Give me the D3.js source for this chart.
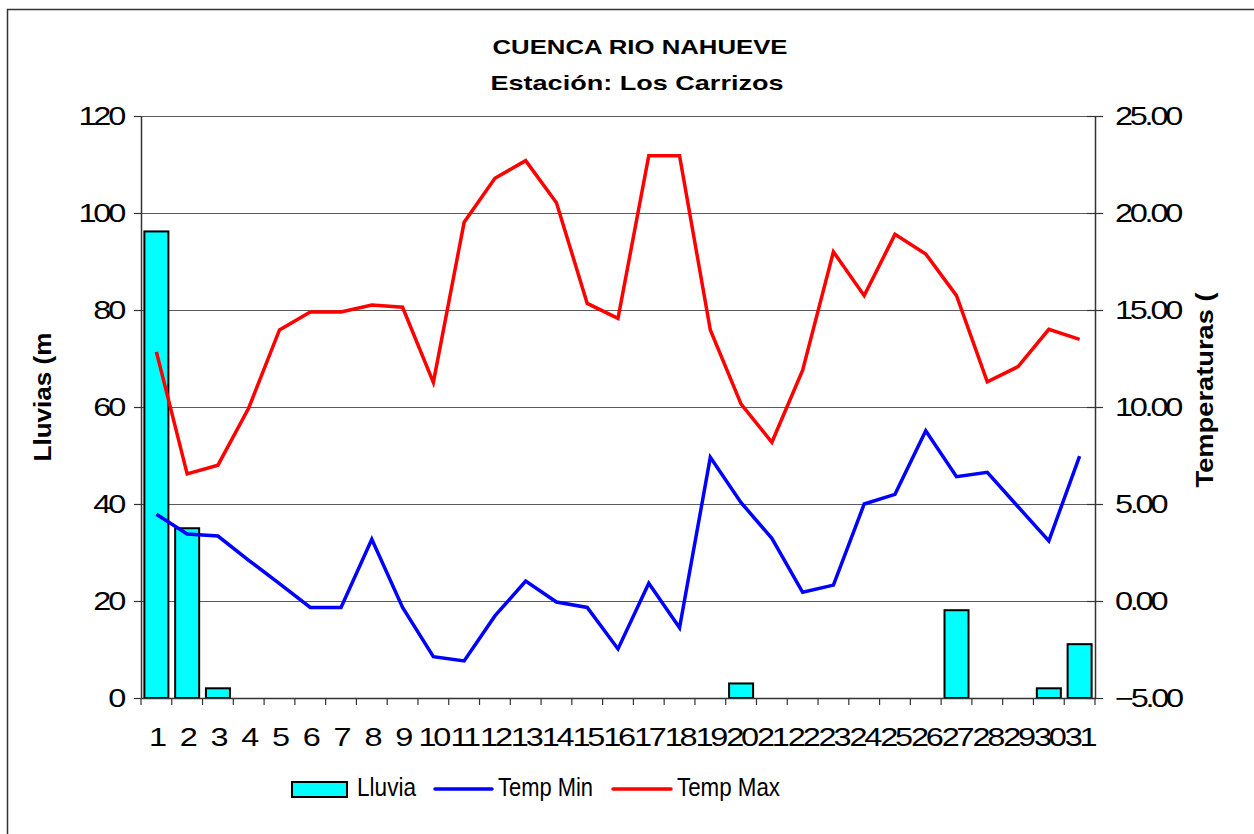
<!DOCTYPE html>
<html><head><meta charset="utf-8">
<script src="https://cdn.jsdelivr.net/npm/d3@7"></script>
<style>body{margin:0;background:#fff;} svg{display:block;font-family:"Liberation Sans",Arial,sans-serif;}</style>
</head><body><svg id="c" width="1254" height="834"></svg>
<script>
const days = ["1","2","3","4","5","6","7","8","9","10","11","12","13","14","15","16","17","18","19","20","21","22","23","24","25","26","27","28","29","30","31"];
const lluvia = [96.2,35,2,0,0,0,0,0,0,0,0,0,0,0,0,0,0,0,0,3,0,0,0,0,0,0,18.1,0,0,2,11.1];
const tempMin = [4.47,3.45,3.35,2.1,0.9,-0.33,-0.33,3.18,-0.33,-2.87,-3.09,-0.77,1.03,-0.05,-0.33,-2.47,0.91,-1.38,7.41,5.07,3.23,0.45,0.82,5.0,5.5,8.78,6.41,6.63,4.86,3.1,7.47];
const tempMax = [12.84,6.55,7.0,9.95,13.97,14.9,14.9,15.26,15.14,11.27,19.52,21.79,22.7,20.53,15.34,14.57,22.95,22.95,13.97,10.15,8.18,11.9,18.0,15.74,18.9,17.89,15.74,11.3,12.08,14.0,13.49];
const leftTicks = [0,20,40,60,80,100,120];
const rightTicks = [-5,0,5,10,15,20,25];
const titleLines = ["CUENCA RIO NAHUEVE","Estación: Los Carrizos"];
const yLeftTitle = "Lluvias (m";
const yRightTitle = "Temperaturas (";
const seriesNames = ["Lluvia","Temp Min","Temp Max"];

const svg = d3.select("#c");
const L=141,R=1095,T=116,B=698;
const SX=1.3;
svg.append("rect").attr("width",1254).attr("height",834).attr("fill","#fff");
svg.append("rect").attr("x",7.5).attr("y",9.5).attr("width",1260).attr("height",840)
  .attr("fill","none").attr("stroke","#333").attr("stroke-width",1.5);

const x = d3.scaleBand().domain(days).range([L,R]).paddingInner(0.22).paddingOuter(0.11);
const y = d3.scaleLinear().domain([0,120]).range([B,T]);
const y2 = d3.scaleLinear().domain([-5,25]).range([B,T]);

// gridlines
svg.append("g").selectAll("line").data(leftTicks.filter(d=>d>0)).join("line")
  .attr("x1",L).attr("x2",R)
  .attr("y1",d=>Math.round(y(d))+0.5).attr("y2",d=>Math.round(y(d))+0.5)
  .attr("stroke","#5a5a5a").attr("stroke-width",1.2);

// bars
svg.append("g").selectAll("rect").data(days.map((d,i)=>({d,v:lluvia[i]})).filter(o=>o.v>0)).join("rect")
  .attr("x",o=>x(o.d)).attr("width",x.bandwidth())
  .attr("y",o=>y(o.v)).attr("height",o=>y(0)-y(o.v))
  .attr("fill","#00ffff").attr("stroke","#000").attr("stroke-width",2);

// lines
const cx = d=>x(d)+x.bandwidth()/2;
const lineMin = d3.line().x((v,i)=>cx(days[i])).y(v=>y2(v));
svg.append("path").attr("d",lineMin(tempMin)).attr("fill","none").attr("stroke","#0000ff").attr("stroke-width",3.5);
svg.append("path").attr("d",lineMin(tempMax)).attr("fill","none").attr("stroke","#ff0000").attr("stroke-width",3.5);

function styleTicks(g){
  g.select(".domain").attr("stroke","#333").attr("stroke-width",1.5);
  g.selectAll(".tick line").attr("stroke","#333").attr("stroke-width",1.2);
  g.selectAll(".tick text").attr("font-size",25).attr("letter-spacing",-2.5).attr("fill","#000")
    .attr("font-family","Liberation Sans, Arial, sans-serif");
}
// left axis
const gl = svg.append("g").attr("transform",`translate(${L},0)`)
  .call(d3.axisLeft(y).tickValues(leftTicks).tickSize(7).tickSizeOuter(0).tickPadding(11));
styleTicks(gl);
gl.selectAll(".tick text").attr("x",-18/SX).attr("transform",`scale(${SX},1)`);

// right axis
const gr = svg.append("g").attr("transform",`translate(${R},0)`)
  .call(d3.axisRight(y2).tickValues(rightTicks).tickFormat(d3.format(".2f")).tickSize(8).tickSizeOuter(0).tickPadding(12));
styleTicks(gr);
gr.selectAll(".tick line").attr("x1",-8);
gr.selectAll(".tick text").attr("x",20/SX).attr("transform",`scale(${SX},1)`);

// bottom axis
const gb = svg.append("g").attr("transform",`translate(0,${B})`)
  .call(d3.axisBottom(x).tickSize(0).tickSizeOuter(0).tickPadding(30));
styleTicks(gb);
gb.selectAll(".tick text").attr("transform",`scale(${SX},1)`);
const bounds = days.map(d=>x(d)-x.step()*x.paddingInner()/2).concat([R]);
gb.append("g").selectAll("line").data(bounds).join("line")
  .attr("x1",d=>d).attr("x2",d=>d).attr("y1",0).attr("y2",7)
  .attr("stroke","#333").attr("stroke-width",1.2);

// titles
svg.append("text").attr("x",640).attr("y",54).attr("text-anchor","middle")
  .attr("font-weight","bold").attr("font-size",21).attr("textLength",295).attr("lengthAdjust","spacingAndGlyphs")
  .text(titleLines[0]);
svg.append("text").attr("x",637).attr("y",90).attr("text-anchor","middle")
  .attr("font-weight","bold").attr("font-size",21).attr("textLength",293).attr("lengthAdjust","spacingAndGlyphs")
  .text(titleLines[1]);

// axis titles
svg.append("text").attr("transform","translate(51,397) rotate(-90)").attr("text-anchor","middle")
  .attr("font-weight","bold").attr("font-size",24).attr("textLength",129).attr("lengthAdjust","spacingAndGlyphs")
  .text(yLeftTitle);
svg.append("text").attr("transform","translate(1213,390) rotate(-90)").attr("text-anchor","middle")
  .attr("font-weight","bold").attr("font-size",24).attr("textLength",195).attr("lengthAdjust","spacingAndGlyphs")
  .text(yRightTitle);

// legend
const lg = svg.append("g");
lg.append("rect").attr("x",292).attr("y",782).attr("width",55).attr("height",15)
  .attr("fill","#00ffff").attr("stroke","#000").attr("stroke-width",2);
lg.append("text").attr("x",357).attr("y",796).attr("font-size",26).attr("textLength",59).attr("lengthAdjust","spacingAndGlyphs").text(seriesNames[0]);
lg.append("line").attr("x1",435).attr("x2",492).attr("y1",789).attr("y2",789).attr("stroke","#0000ff").attr("stroke-width",3.5).attr("stroke-linecap","round");
lg.append("text").attr("x",498).attr("y",796).attr("font-size",26).attr("textLength",95).attr("lengthAdjust","spacingAndGlyphs").text(seriesNames[1]);
lg.append("line").attr("x1",613).attr("x2",671).attr("y1",789).attr("y2",789).attr("stroke","#ff0000").attr("stroke-width",3.5).attr("stroke-linecap","round");
lg.append("text").attr("x",677).attr("y",796).attr("font-size",26).attr("textLength",103).attr("lengthAdjust","spacingAndGlyphs").text(seriesNames[2]);
</script></body></html>
